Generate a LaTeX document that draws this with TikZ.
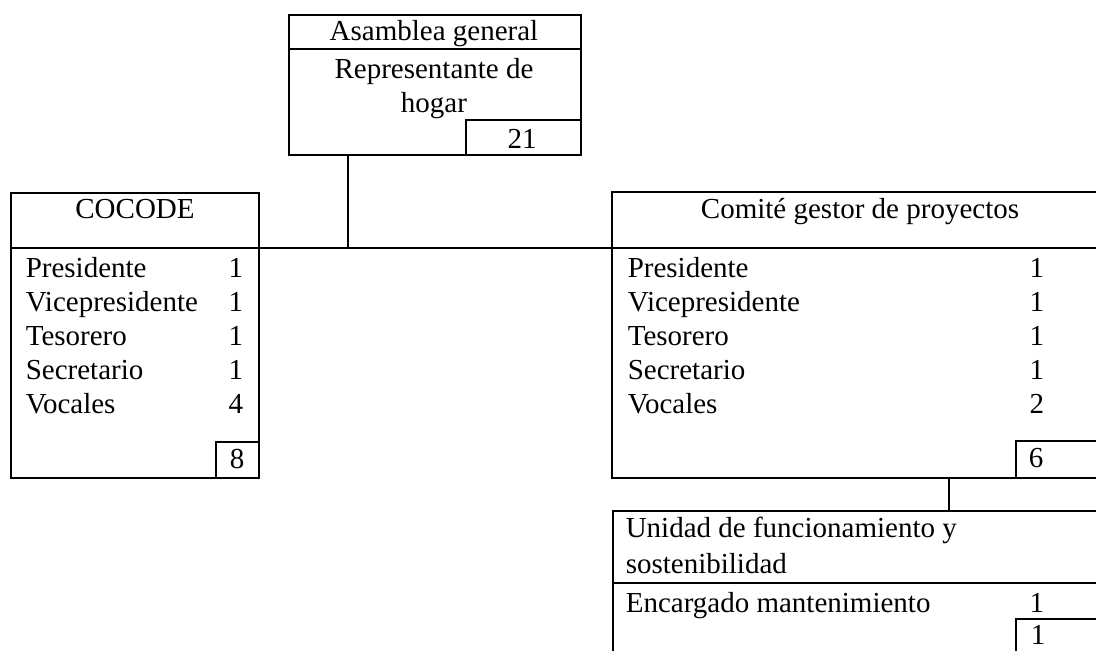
\documentclass[tikz,border=0pt]{standalone}
\usepackage{fontspec}
\setmainfont{Liberation Serif}
\begin{document}
\begin{tikzpicture}[x=0.5pt,y=-0.5pt,line width=0.8pt,
	box/.style={draw,rectangle,inner sep=0pt,anchor=north west},
	txt/.style={inner sep=0pt,font=\fontsize{14.5}{17}\selectfont},
	item/.style={txt,anchor=base west},
	num/.style={txt,anchor=base east}]
	
	\useasboundingbox (0,0) rectangle (1096,650);
	\clip (0,0) rectangle (1096,650);
	
	% Boxes
	\node[box,minimum width=146pt,minimum height=70pt] (asamblea) at (288,14) {};
	\node[box,minimum width=57.5pt,minimum height=17.5pt] (tot21) at (465,119) {};
	\node[box,minimum width=124pt,minimum height=142.5pt] (cocode) at (10,192) {};
	\node[box,minimum width=21.5pt,minimum height=18pt] (tot8) at (215,441) {};
	\node[box,minimum width=249pt,minimum height=143pt] (comite) at (611,191) {};
	\node[box,minimum width=47pt,minimum height=18.5pt] (tot6) at (1015,440) {};
	\node[box,minimum width=248.5pt,minimum height=90pt] (unidad) at (612,510) {};
	\node[box,minimum width=47pt,minimum height=40pt] (tot1) at (1015,618) {};
	
	% Dividers
	\draw (asamblea.north west) ++(0,35) -- ++(292,0);
	\draw (cocode.north west) ++(0,56) -- ++(248,0);
	\draw (comite.north west) ++(0,57) -- ++(498,0);
	\draw (unidad.north west) ++(0,73) -- ++(497,0);
	
	% Connectors
	\coordinate (hub) at (348,248);
	\coordinate (drop) at (949,0);
	\draw (asamblea.south -| hub) -- (hub);
	\draw (cocode.east |- hub) -- (comite.west |- hub);
	\draw (comite.south -| drop) -- (unidad.north -| drop);
	
	% Asamblea general
	\node[txt,anchor=base] (asamT) at (434,40) {Asamblea general};
	\node[txt,anchor=base] (rep1) at (434,78) {Representante de};
	\node[txt,anchor=base] (rep2) at (434,112) {hogar};
	\node[txt,anchor=base] (n21) at (522,148) {21};
	
	% COCODE
	\node[txt,anchor=base] (cocT) at (135,218) {COCODE};
	\node[item] (cPres) at (25,277) {Presidente};
	\node[item] (cVice) at (25,311) {Vicepresidente};
	\node[item] (cTes) at (25,345) {Tesorero};
	\node[item] (cSec) at (25,379) {Secretario};
	\node[item] (cVoc) at (25,413) {Vocales};
	\node[num] (cPresN) at (244,277) {1};
	\node[num] (cViceN) at (244,311) {1};
	\node[num] (cTesN) at (244,345) {1};
	\node[num] (cSecN) at (244,379) {1};
	\node[num] (cVocN) at (244,413) {4};
	\node[txt,anchor=base] (n8) at (237,468) {8};
	
	% Comite gestor
	\node[txt,anchor=base] (comT) at (860,218) {Comité gestor de proyectos};
	\node[item] (gPres) at (627,277) {Presidente};
	\node[item] (gVice) at (627,311) {Vicepresidente};
	\node[item] (gTes) at (627,345) {Tesorero};
	\node[item] (gSec) at (627,379) {Secretario};
	\node[item] (gVoc) at (627,413) {Vocales};
	\node[num] (gPresN) at (1045,277) {1};
	\node[num] (gViceN) at (1045,311) {1};
	\node[num] (gTesN) at (1045,345) {1};
	\node[num] (gSecN) at (1045,379) {1};
	\node[num] (gVocN) at (1045,413) {2};
	\node[txt,anchor=base] (n6) at (1036,467) {6};
	
	% Unidad
	\node[item] (uT1) at (625,537) {Unidad de funcionamiento y};
	\node[item] (uT2) at (625,573) {sostenibilidad};
	\node[item] (uEnc) at (625,612) {Encargado mantenimiento};
	\node[num] (uEncN) at (1045,612) {1};
	\node[txt,anchor=base] (n1) at (1038,644) {1};
	
\end{tikzpicture}
\end{document}
